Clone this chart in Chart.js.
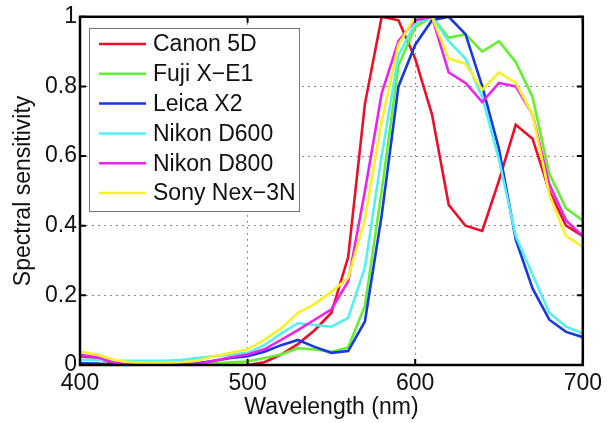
<!DOCTYPE html>
<html>
<head>
<meta charset="utf-8">
<script src="https://cdn.jsdelivr.net/npm/chart.js@4.4.0/dist/chart.umd.min.js"></script>
<style>
    html, body { margin: 0; padding: 0; background: #fff; }
    #wrap { width: 607px; height: 423px; }
</style>
</head>
<body>
<div id="wrap"><canvas id="spectral_chart" width="607" height="423"></canvas></div>
<script>
// wavelengths (nm), one sample every 10 nm
const wavelengths = [400, 410, 420, 430, 440, 450, 460, 470, 480, 490, 500,
    510, 520, 530, 540, 550, 560, 570, 580, 590, 600,
    610, 620, 630, 640, 650, 660, 670, 680, 690, 700];

const canon_5d = [0.025, 0.02, 0.005, 0, 0, 0, 0, 0, 0, 0, 0,
    0.008, 0.03, 0.06, 0.10, 0.15, 0.31, 0.75, 1.0, 0.99, 0.88,
    0.72, 0.46, 0.40, 0.385, 0.53, 0.69, 0.65, 0.50, 0.40, 0.37];
const fuji_xe1 = [0.005, 0.003, 0.002, 0.002, 0.002, 0.002, 0.002, 0.003, 0.005, 0.008, 0.01,
    0.02, 0.03, 0.048, 0.045, 0.037, 0.05, 0.17, 0.50, 0.86, 0.97,
    1.0, 0.94, 0.95, 0.90, 0.93, 0.87, 0.77, 0.55, 0.45, 0.415];
const leica_x2 = [0.005, 0.004, 0.002, 0, 0, 0, 0.001, 0.005, 0.012, 0.02, 0.025,
    0.038, 0.057, 0.072, 0.052, 0.035, 0.04, 0.125, 0.43, 0.80, 0.92,
    0.99, 1.0, 0.95, 0.80, 0.62, 0.36, 0.22, 0.13, 0.095, 0.08];
const nikon_d600 = [0.015, 0.015, 0.012, 0.012, 0.012, 0.012, 0.014, 0.02, 0.025, 0.03, 0.035,
    0.057, 0.09, 0.12, 0.115, 0.11, 0.135, 0.28, 0.60, 0.89, 0.98,
    1.0, 0.93, 0.88, 0.77, 0.59, 0.37, 0.26, 0.15, 0.11, 0.09];
const nikon_d800 = [0.029, 0.022, 0.008, 0, 0, 0, 0, 0.002, 0.012, 0.022, 0.03,
    0.045, 0.072, 0.10, 0.13, 0.16, 0.24, 0.50, 0.78, 0.93, 0.99,
    1.0, 0.84, 0.81, 0.755, 0.81, 0.80, 0.72, 0.52, 0.415, 0.37];
const sony_nex3n = [0.038, 0.03, 0.015, 0.008, 0.006, 0.006, 0.008, 0.012, 0.025, 0.035, 0.045,
    0.072, 0.105, 0.15, 0.175, 0.21, 0.25, 0.42, 0.70, 0.92, 1.0,
    1.0, 0.88, 0.865, 0.79, 0.84, 0.81, 0.72, 0.49, 0.37, 0.34];

const series_names = ['Canon 5D', 'Fuji X\u2212E1', 'Leica X2', 'Nikon D600', 'Nikon D800', 'Sony Nex\u22123N'];
const series_values = [canon_5d, fuji_xe1, leica_x2, nikon_d600, nikon_d800, sony_nex3n];
const series_colors = ['#e8102a', '#66ee33', '#1838e0', '#55f0f0', '#ee22ee', '#f8f028'];

const x_ticks = [400, 500, 600, 700];
const y_ticks = [0, 0.2, 0.4, 0.6, 0.8, 1];

const FONT = 'Liberation Sans, Arial, sans-serif';

// matlab style frame with inward tick marks
const frame_plugin = {
    id: 'frame_plugin',
    afterDatasetsDraw(chart) {
        const ctx = chart.ctx;
        const a = chart.chartArea;
        const xs = chart.scales.x;
        const ys = chart.scales.y;
        ctx.save();
        ctx.strokeStyle = '#000';
        ctx.lineWidth = 2;
        ctx.beginPath();
        x_ticks.forEach(function (t) {
            const px = xs.getPixelForValue(t);
            ctx.moveTo(px, a.bottom); ctx.lineTo(px, a.bottom - 6);
            ctx.moveTo(px, a.top); ctx.lineTo(px, a.top + 6);
        });
        y_ticks.forEach(function (t) {
            const py = ys.getPixelForValue(t);
            ctx.moveTo(a.left, py); ctx.lineTo(a.left + 6, py);
            ctx.moveTo(a.right, py); ctx.lineTo(a.right - 6, py);
        });
        ctx.stroke();
        ctx.lineWidth = 2.5;
        ctx.strokeRect(a.left, a.top, a.right - a.left, a.bottom - a.top);
        ctx.restore();
    }
};

// legend box inside the axes, top left
const legend_plugin = {
    id: 'legend_plugin',
    afterDraw(chart) {
        const ctx = chart.ctx;
        const box = { x: 89, y: 28, w: 210, h: 183 };
        ctx.save();
        ctx.fillStyle = '#fff';
        ctx.fillRect(box.x, box.y, box.w, box.h);
        ctx.strokeStyle = '#777';
        ctx.lineWidth = 1;
        ctx.strokeRect(box.x + 0.5, box.y + 0.5, box.w, box.h);
        ctx.font = '23px ' + FONT;
        ctx.textBaseline = 'middle';
        ctx.textAlign = 'left';
        chart.data.datasets.forEach(function (ds, i) {
            const yy = 44 + i * 29.8;
            ctx.strokeStyle = ds.borderColor;
            ctx.lineWidth = 2.5;
            ctx.beginPath();
            ctx.moveTo(99, yy);
            ctx.lineTo(146, yy);
            ctx.stroke();
            ctx.fillStyle = '#111';
            ctx.fillText(ds.label, 153, yy + 1);
        });
        ctx.restore();
    }
};

const datasets = series_names.map(function (name, i) {
    return {
        label: name,
        data: wavelengths.map(function (w, j) { return { x: w, y: series_values[i][j] }; }),
        borderColor: series_colors[i],
        backgroundColor: series_colors[i],
        borderWidth: 2.6,
        pointRadius: 0,
        tension: 0,
        fill: false,
        order: series_names.length - i
    };
});

new Chart(document.getElementById('spectral_chart'), {
    type: 'line',
    data: { datasets: datasets },
    options: {
        responsive: false,
        animation: false,
        devicePixelRatio: 1,
        layout: { padding: { top: 16, right: 19, left: 0, bottom: 0 } },
        plugins: {
            legend: { display: false },
            tooltip: { enabled: false }
        },
        scales: {
            x: {
                type: 'linear',
                min: 400,
                max: 700,
                afterBuildTicks: function (scale) {
                    scale.ticks = x_ticks.map(function (v) { return { value: v }; });
                },
                afterFit: function (scale) { scale.height = 58; },
                ticks: {
                    color: '#111',
                    font: { family: FONT, size: 23 },
                    padding: 5,
                    maxRotation: 0
                },
                grid: { color: '#8a8a8a', lineWidth: 1, drawTicks: false },
                border: { display: false, dash: [2, 4] },
                title: {
                    display: true,
                    text: 'Wavelength (nm)',
                    color: '#111',
                    font: { family: FONT, size: 23 },
                    padding: { top: 0, bottom: 2 }
                }
            },
            y: {
                min: 0,
                max: 1,
                afterBuildTicks: function (scale) {
                    scale.ticks = y_ticks.map(function (v) { return { value: v }; });
                },
                afterFit: function (scale) { scale.width = 80; },
                ticks: {
                    color: '#111',
                    font: { family: FONT, size: 23 },
                    padding: 3,
                    callback: function (v) { return (v === 0 || v === 1) ? String(v) : v.toFixed(1); }
                },
                grid: { color: '#8a8a8a', lineWidth: 1, drawTicks: false },
                border: { display: false, dash: [2, 4] },
                title: {
                    display: true,
                    text: 'Spectral sensitivity',
                    color: '#111',
                    font: { family: FONT, size: 23 },
                    padding: { top: 10, bottom: 0 }
                }
            }
        }
    },
    plugins: [frame_plugin, legend_plugin]
});
</script>
</body>
</html>
